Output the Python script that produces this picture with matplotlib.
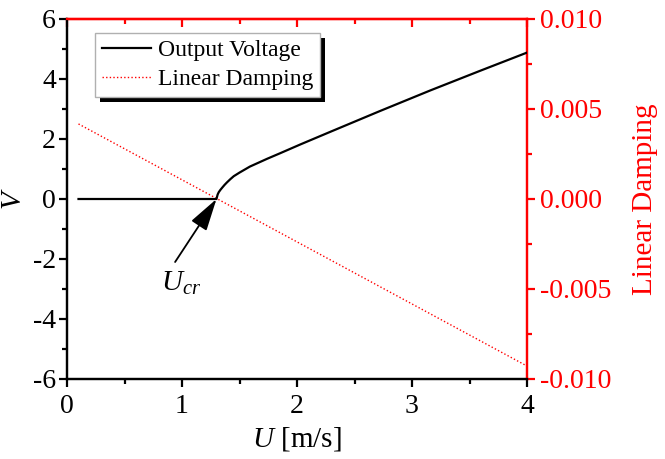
import matplotlib
matplotlib.use("Agg")
import matplotlib.pyplot as plt
from matplotlib.patches import Rectangle
from matplotlib.ticker import MultipleLocator, FormatStrFormatter

plt.rcParams['font.family'] = ['Liberation Serif', 'DejaVu Serif']
plt.rcParams['mathtext.fontset'] = 'custom'
plt.rcParams['mathtext.it'] = 'Liberation Serif:italic'
plt.rcParams['mathtext.rm'] = 'Liberation Serif'
plt.rcParams['axes.unicode_minus'] = False

# Output voltage data
U_volt = [0.1, 1.3, 1.305, 1.31, 1.32, 1.335, 1.35, 1.37, 1.39, 1.42, 1.45, 1.5, 1.59, 1.74, 1.85, 2.03, 2.29, 2.72, 3.16, 3.59, 4.0]
V_volt = [0.0, 0.0, 0.08, 0.15, 0.23, 0.31, 0.38, 0.47, 0.55, 0.66, 0.76, 0.88, 1.08, 1.34, 1.52, 1.82, 2.24, 2.93, 3.62, 4.27, 4.88]

# Linear damping data
U_damp = [0.1, 4.0]
D_damp = [0.00417, -0.00928]

x_ticks = [0, 1, 2, 3, 4]
y_ticks = [-6, -4, -2, 0, 2, 4, 6]
y2_ticks = [-0.010, -0.005, 0.0, 0.005, 0.010]

fig = plt.figure(figsize=(6.65, 4.59), dpi=100)
ax = fig.add_axes([67/665, 80/459, 460/665, 360/459])
ax2 = ax.twinx()

lw_sp = 1.6
ln2, = ax2.plot(U_damp, D_damp, color='red', lw=1.0, ls=(0, (1, 1.6)), label='Linear Damping')
ln1, = ax.plot(U_volt, V_volt, color='black', lw=1.6, label='Output Voltage', zorder=3)

ax.set_xlim(0, 4)
ax.set_ylim(-6, 6)
ax2.set_ylim(-0.010, 0.010)
ax.set_xticks(x_ticks)
ax.set_yticks(y_ticks)
ax2.set_yticks(y2_ticks)
ax2.yaxis.set_major_formatter(FormatStrFormatter('%.3f'))
ax.xaxis.set_minor_locator(MultipleLocator(0.5))
ax.yaxis.set_minor_locator(MultipleLocator(1))
ax2.yaxis.set_minor_locator(MultipleLocator(0.0025))

for a in (ax, ax2):
    for s in a.spines.values():
        s.set_linewidth(lw_sp)
ax.spines['left'].set_color('black')
ax.spines['bottom'].set_color('black')
ax2.spines['right'].set_color('red')
ax2.spines['top'].set_color('red')
ax.spines['top'].set_color('red')
ax.spines['right'].set_color('red')

ax.tick_params(axis='both', which='major', direction='out', length=6, width=lw_sp, labelsize=20, pad=2)
ax.tick_params(axis='x', which='major', pad=5)
ax.tick_params(axis='both', which='minor', direction='out', length=3.5, width=lw_sp)
ax.xaxis.set_tick_params(which='both', top=False)
axt = ax.secondary_xaxis('top')
axt.set_xticks(x_ticks)
axt.xaxis.set_minor_locator(MultipleLocator(0.5))
axt.tick_params(which='major', direction='in', length=6, width=lw_sp, color='red', labeltop=False)
axt.tick_params(which='minor', direction='in', length=3.5, width=lw_sp, color='red')
axt.spines['top'].set_color('red')
axt.spines['top'].set_linewidth(lw_sp)
axt.set_xticklabels([])

ax2.tick_params(axis='y', which='major', direction='out', length=6, width=lw_sp, colors='red', labelsize=20, pad=3)
ax2.tick_params(axis='y', which='minor', direction='out', length=3.5, width=lw_sp, colors='red')

ax.set_xlabel('$U$ [m/s]', fontsize=21, labelpad=4)
ax.set_ylabel('$V$', fontsize=21, labelpad=4)
ax2.set_ylabel('Linear Damping', fontsize=21, color='red', labelpad=15)

ax.annotate('', xy=(1.3, 0.0), xytext=(0.94, -2.1),
            arrowprops=dict(arrowstyle='-|>,head_length=1.0,head_width=0.28', color='black', lw=1.3,
                            mutation_scale=20, shrinkA=0, shrinkB=0))
ax.text(0.99, -2.8, '$U_{cr}$', fontsize=21, ha='center', va='center')

ax2.set_zorder(2)
ax.set_zorder(3)
ax.patch.set_visible(False)

leg = ax.legend([ln1, ln2], ['Output Voltage', 'Linear Damping'],
                loc='upper left', bbox_to_anchor=(95/665, (459-33)/459),
                bbox_transform=fig.transFigure, fontsize=17, frameon=True,
                fancybox=False, borderpad=0.28, handlelength=2.1,
                handletextpad=0.3, labelspacing=0.32, borderaxespad=0,
                framealpha=1)
leg.get_frame().set_edgecolor('#b0b0b0')
leg.get_frame().set_linewidth(1.0)
leg.set_zorder(10)

fig.canvas.draw()
bb = leg.get_window_extent()
off = 5
sh = Rectangle((bb.x0 + off, bb.y0 - off), bb.width, bb.height,
               transform=None, facecolor='black', edgecolor='none', zorder=9)
ax.add_artist(sh)

fig.savefig('out.png', dpi=100)
